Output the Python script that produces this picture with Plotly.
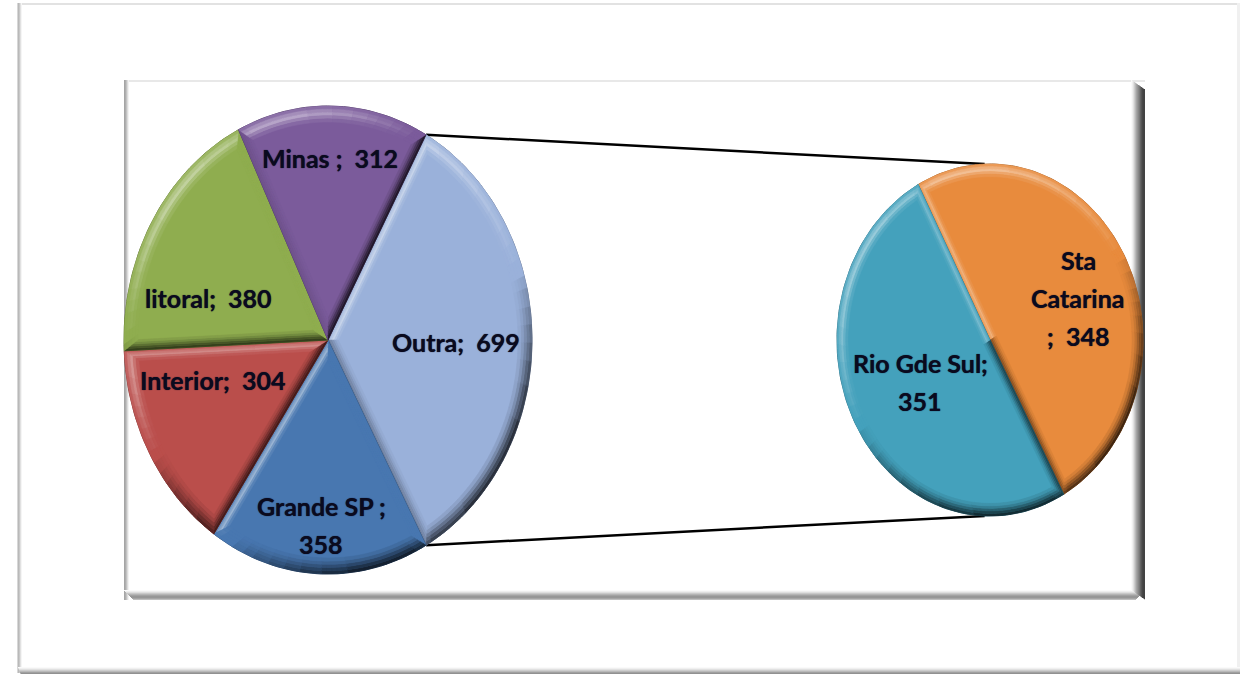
import math
import plotly.graph_objects as go

# left pie
left_names = ["Outra", "Grande SP", "Interior", "litoral", "Minas"]
left_values = [699, 358, 304, 380, 312]
left_colors = ["#9AB1DA", "#4877B0", "#BA4E4B", "#8FAD4F", "#7B5B9B"]

# right pie
right_names = ["Sta Catarina", "Rio Gde Sul"]
right_values = [348, 351]
right_colors = ["#E88B3D", "#44A1BC"]

left_text = ["Outra;  699", "Grande SP ;<br>358", "Interior;  304", "litoral;  380", "Minas ;  312"]
right_text = ["Sta<br>Catarina<br>;  348", "Rio Gde Sul;<br>351"]

# layout in page pixels
W, H = 1240, 674
left_pie = dict(cx=328, cy=340, rx=204, ry=234, start=28.7, bevel=14)
right_pie = dict(cx=990, cy=340, rx=153, ry=176, start=-28, bevel=11)
left_label_xy = [(456, 342), (321, 525), (212, 380), (208, 298), (330, 158)]
right_label_xy = [(1078, 298), (920, 382)]
LINE_GAP = 38
# how strong each band of a strip is, outer to inner
LIT_BANDS = [0.3, 0.7, 1.0, 0.55, 0.2]
DARK_BANDS = [1.0, 0.8, 0.55, 0.3, 0.12]


def shade(color, k):
    r, g, b = [int(color[i:i + 2], 16) for i in (1, 3, 5)]
    if k >= 0:
        r, g, b = r + (255 - r) * k, g + (255 - g) * k, b + (255 - b) * k
    else:
        r, g, b = r * (1 + k), g * (1 + k), b * (1 + k)
    return "rgb(%d,%d,%d)" % (r, g, b)


def polar(pie, r, ang):
    # r is relative to a unit circle, the ellipse comes from rx / ry
    a = math.radians(ang)
    return pie["cx"] + pie["rx"] * r * math.sin(a), pie["cy"] - pie["ry"] * r * math.cos(a)


def lerp(p, q, t):
    return p[0] + (q[0] - p[0]) * t, p[1] + (q[1] - p[1]) * t


def slice_traces(pie, a0, a1, color):
    traces = []
    n = max(12, int((a1 - a0) / 1.5))
    b = pie["bevel"] / pie["rx"]
    side = b * 0.65
    mid = (a0 + a1) / 2
    half = math.radians((a1 - a0) / 2)
    offset = side / math.sin(half)
    da = math.degrees(math.asin(min(0.9, side / (1 - b))))

    cx, cy = pie["cx"], pie["cy"]
    inner_apex = polar(pie, offset, mid)
    outer_arc = [polar(pie, 1, a0 + (a1 - a0) * i / n) for i in range(n + 1)]
    inner_arc = [polar(pie, 1 - b, a0 + da + (a1 - a0 - 2 * da) * i / n) for i in range(n + 1)]

    # bevel strips between the outer edge and the inset face, lit from top left
    # each strip is (outer p, outer q, inner q, inner p)
    strips = [((cx, cy), outer_arc[0], inner_arc[0], inner_apex),
              (outer_arc[-1], (cx, cy), inner_apex, inner_arc[-1])]
    for i in range(n):
        strips.append((outer_arc[i], outer_arc[i + 1], inner_arc[i + 1], inner_arc[i]))

    levels = {}
    nb = len(LIT_BANDS)
    for q in strips:
        mx, my = (q[0][0] + q[1][0]) / 2, (q[0][1] + q[1][1]) / 2
        fx, fy = (q[2][0] + q[3][0]) / 2, (q[2][1] + q[3][1]) / 2
        nx, ny = mx - fx, my - fy
        ln = math.hypot(nx, ny) or 1
        light = (nx * -0.55 + ny * -0.83) / ln
        level = round(light * 8) / 8
        for band_i in range(nb):
            t0, t1 = band_i / nb, (band_i + 1) / nb
            quad = (lerp(q[0], q[3], t0), lerp(q[1], q[2], t0), lerp(q[1], q[2], t1), lerp(q[0], q[3], t1))
            levels.setdefault((level, band_i), []).append(quad)

    full = [(cx, cy)] + outer_arc + [(cx, cy)]
    traces.append(go.Scatter(x=[p[0] for p in full], y=[p[1] for p in full], mode="lines", fill="toself",
                             fillcolor=color, line=dict(color=shade(color, -0.4), width=1), hoverinfo="skip"))
    for (level, band_i), quads in levels.items():
        k = level * 0.45 * LIT_BANDS[band_i] if level > 0 else level * 0.72 * DARK_BANDS[band_i]
        xs, ys = [], []
        for q in quads:
            xs += [p[0] for p in q] + [q[0][0], None]
            ys += [p[1] for p in q] + [q[0][1], None]
        c = shade(color, k)
        traces.append(go.Scatter(x=xs, y=ys, mode="lines", fill="toself", fillcolor=c,
                                 line=dict(color=c, width=0.5), hoverinfo="skip"))
    return traces


def pie_traces(pie, values, colors):
    traces, edges = [], []
    total = sum(values)
    ang = pie["start"]
    for v, c in zip(values, colors):
        sweep = 360 * v / total
        traces += slice_traces(pie, ang, ang + sweep, c)
        edges.append((ang, ang + sweep))
        ang += sweep
    return traces, edges


fig = go.Figure()

left_traces, left_edges = pie_traces(left_pie, left_values, left_colors)
right_traces, right_edges = pie_traces(right_pie, right_values, right_colors)

# series lines between the big slice and the second pie
top_start = polar(left_pie, 1, left_edges[0][0])
bot_start = polar(left_pie, 1, left_edges[0][1])
top_end = polar(right_pie, 1, -2)
bot_end = polar(right_pie, 1, 182)
fig.add_trace(go.Scatter(x=[top_start[0], top_end[0]], y=[top_start[1], top_end[1]], mode="lines",
                         line=dict(color="#000000", width=2.5), hoverinfo="skip"))
fig.add_trace(go.Scatter(x=[bot_start[0], bot_end[0]], y=[bot_start[1], bot_end[1]], mode="lines",
                         line=dict(color="#000000", width=2.5), hoverinfo="skip"))

for t in left_traces + right_traces:
    fig.add_trace(t)


def band(x0, x1, y0, y1, v):
    return dict(type="rect", x0=x0, x1=x1, y0=y0, y1=y1, fillcolor="rgb(%d,%d,%d)" % (v, v, v), line_width=0)


shapes = []
# outer frame
shapes.append(band(18, 1240, 3, 5, 226))
for i, v in enumerate([215, 185, 200, 225, 245]):
    shapes.append(band(17 + i, 18 + i, 3, 673, v))
for i, v in enumerate([250, 240, 225, 205, 185, 160, 145]):
    shapes.append(band(18 + i * 0.4, 1240, 667 + i, 668 + i, v))
shapes.append(band(1237, 1240, 3, 667, 240))

# inner frame
shapes.append(band(124, 1145, 80, 82, 232))
for i, v in enumerate([165, 175, 195, 220, 242]):
    shapes.append(band(124 + i, 125 + i, 80, 600, v))
for i, v in enumerate([250, 238, 222, 200, 180, 162, 150, 150, 165, 190]):
    shapes.append(band(124 + i, 1145 - i, 590 + i, 591 + i, v))
for i, v in enumerate([250, 240, 225, 205, 185, 165, 150, 135, 120, 100, 85, 72, 66, 66]):
    shapes.append(band(1131 + i, 1132 + i, 80 + i * 0.7, 600 - (14 - i) * 0.7, v))
for s in shapes:
    s["layer"] = "below"
    s["xref"] = "x"
    s["yref"] = "y"

annotations = []
for txt, (x, y) in zip(left_text + right_text, left_label_xy + right_label_xy):
    lines = txt.split("<br>")
    for i, line in enumerate(lines):
        annotations.append(dict(x=x, y=y + (i - (len(lines) - 1) / 2) * LINE_GAP, text=line, showarrow=False,
                                xref="x", yref="y",
                                font=dict(family="Lato", size=25, color="#0A0A1E", weight="bold",
                                          shadow="0 0 1px rgba(10,10,30,0.9)")))

fig.update_layout(
    width=W, height=H,
    margin=dict(l=0, r=0, t=0, b=0),
    paper_bgcolor="white", plot_bgcolor="white",
    showlegend=False,
    shapes=shapes,
    annotations=annotations,
    xaxis=dict(range=[0, W], visible=False, fixedrange=True),
    yaxis=dict(range=[H, 0], visible=False, fixedrange=True),
)

fig.write_html("out.html", config=dict(displayModeBar=False),
               post_script="document.body.style.margin='0';document.body.style.overflow='hidden';")
